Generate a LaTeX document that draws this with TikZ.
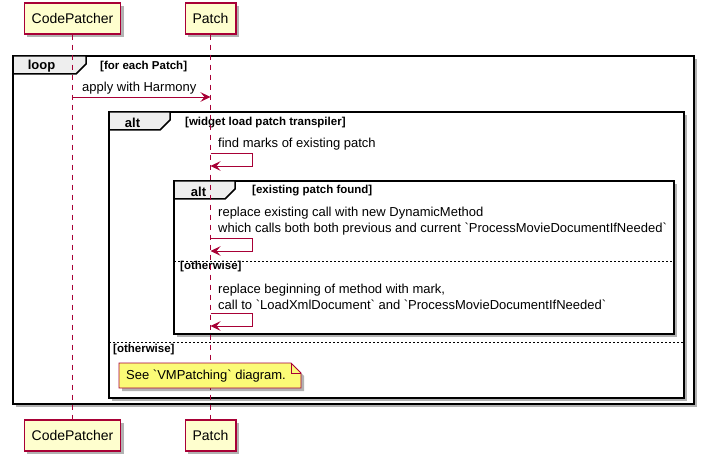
\documentclass[tikz,border=0pt]{standalone}
\usepackage{fontspec}
\setmainfont{Liberation Sans}[Ligatures=TeXOff]
\usepackage{tikz}
\usetikzlibrary{positioning,arrows.meta,shadows}
\definecolor{umlred}{HTML}{A80036}
\definecolor{umlbox}{HTML}{FEFECE}
\definecolor{umltab}{HTML}{EEEEEE}
\definecolor{umlnote}{HTML}{FBFB77}
\newcommand{\msgfont}{\fontsize{13}{16.5}\selectfont}
\tikzset{
  umlshadow/.style={
    drop shadow={shadow xshift=3pt,shadow yshift=-3pt,opacity=.3,fill=black}
  },
  participant/.style={
    draw=umlred, fill=umlbox, line width=1.2pt,
    minimum height=31pt, inner xsep=7.5pt,
    font=\fontsize{14}{16}\selectfont, umlshadow
  },
  lifeline/.style={umlred, line width=.8pt, dash pattern=on 5pt off 5pt},
  msg/.style={umlred, line width=.8pt, -{Stealth[length=10pt,width=9.5pt,inset=4pt]}},
  msgtext/.style={anchor=west, inner sep=0pt, align=left, font=\msgfont},
  frame/.style={draw=black, fill=white, line width=1.5pt, umlshadow},
  tab/.style={draw=black, fill=umltab, line width=1.5pt},
  tabname/.style={inner sep=0pt, font=\fontsize{13}{15}\selectfont\bfseries},
  guard/.style={anchor=west, inner sep=0pt, font=\fontsize{11.5}{13}\selectfont\bfseries},
  elsebar/.style={black, line width=.8pt, dash pattern=on 2pt off 2pt},
  notebox/.style={draw=umlred, fill=umlnote, line width=.8pt, umlshadow}
}

\begin{document}
\begin{tikzpicture}[x=1pt,y=-1pt]
  \useasboundingbox (0,0) rectangle (704,462);
  % participants
  \node [participant] (CP) at (72.5,18.5) {CodePatcher};
  \node [participant, on grid, right=138pt of CP] (P) {Patch};
  \node [participant, on grid, below=417pt of CP] (CPend) {CodePatcher};
  \node [participant, on grid, below=417pt of P] (Pend) {Patch};
  % frames
  \filldraw [frame] (13,56) rectangle (694,404);
  \filldraw [frame] (109,112) rectangle (684,398);
  \filldraw [frame] (174,181) rectangle (674,334);
  \draw [elsebar] (174,261) -- (674,261);
  \draw [elsebar] (109,342) -- (684,342);
  \filldraw [tab] (13,56) -- (86,56) -- (86,64) -- (76,74) -- (13,74) -- cycle;
  \filldraw [tab] (109,112) -- (170,112) -- (170,120) -- (160,130) -- (109,130) -- cycle;
  \filldraw [tab] (174,181) -- (235,181) -- (235,189) -- (225,199) -- (174,199) -- cycle;
  \node [tabname] (loopname) at (41.5,66) {loop};
  \node [tabname] (altname) at (132.5,122.5) {alt};
  \node [tabname] (innername) at (198.5,191.5) {alt};
  \node [guard] (loopguard) at (100,66.5) {[for each Patch]};
  \node [guard] (altguard) at (185,122.5) {[widget load patch transpiler]};
  \node [guard] (innerguard) at (252,191) {[existing patch found]};
  \node [guard] (innerelse) at (180,267) {[otherwise]};
  \node [guard] (altelse) at (113,350) {[otherwise]};
  % lifelines
  \draw [lifeline] (CP) -- (CPend);
  \draw [lifeline] (P) -- (Pend);
  % messages
  \coordinate (applyfrom) at (CP |- 0,97);
  \coordinate (applyto) at (P |- 0,97);
  \draw [msg] (applyfrom) -- (applyto);
  \node [msgtext] (applytxt) at (82,88) {apply with Harmony};
  \foreach \y in {153,238,313}
    \draw [msg] (P |- 0,\y) -| ++(42,13) -- (P |- 0,{\y+13});
  \node [msgtext] (findtxt) at (218,144) {find marks of existing patch};
  \node [msgtext] (replacetxt) at (218,221) {replace existing call with new DynamicMethod\\which calls both both previous and current `ProcessMovieDocumentIfNeeded`};
  \node [msgtext] (begintxt) at (218,297) {replace beginning of method with mark,\\call to `LoadXmlDocument` and `ProcessMovieDocumentIfNeeded`};
  % note
  \filldraw [notebox] (119,363) -- (291,363) -- (301,373) -- (301,388) -- (119,388) -- cycle;
  \draw [umlred, line width=.8pt] (291,363) -- (291,373) -- (301,373);
  \node [msgtext] (notetxt) at (126,376) {See `VMPatching` diagram.};
\end{tikzpicture}
\end{document}
